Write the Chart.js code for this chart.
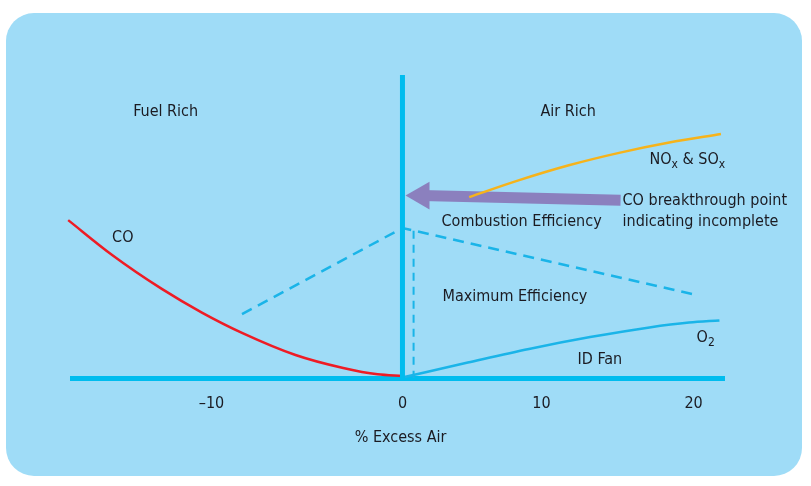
<!DOCTYPE html>
<html>
<head>
<meta charset="utf-8">
<script src="https://cdn.jsdelivr.net/npm/chart.js@4/dist/chart.umd.min.js"></script>
<style>
  html, body { margin: 0; padding: 0; background: #fff; }
</style>
</head>
<body>
<canvas id="chart" width="811" height="486"></canvas>
<script>
// eje x: % exceso de aire
const tickValues = [-10, 0, 10, 20];
const tickLabels = ['\u201310', '0', '10', '20'];
// donde cae cada marca en el dibujo (el esquema no es lineal)
const tickSpots = [-13.74, 0, 10, 20.94];

const coX = [-17.5, -15.2, -12.6, -10.5, -8.4, -5.6, -3.1, -1.3, 0];
const coY = [52.1, 40.6, 29.4, 21.6, 14.9, 7.6, 3.3, 1.2, 0.7];

const o2X = [0.14, 4.7, 9.1, 13.2, 17.1, 19.7, 21.7];
const o2Y = [0.3, 5.1, 9.6, 13.5, 16.7, 18.3, 19.0];

const noxX = [4.8, 8.4, 11.8, 15.1, 18.4, 21.8];
const noxY = [59.7, 65.3, 70.2, 74.3, 77.7, 80.5];

const effX = [-8.4, 0, 20.2];
const effY = [21.1, 49.5, 27.4];

const maxEffX = [0.8, 0.8];
const maxEffY = [48.6, 0];

const dividerX = [0, 0];
const dividerY = [0, 100];

const arrowX = [15.2, 1.37];
const arrowY = [58.7, 60.2];

// textos del esquema
const notes = [
  { x: -14.1, y: 87.8, parts: [['Fuel Rich']] },
  { x: 9.93, y: 87.8, parts: [['Air Rich']] },
  { x: -15.2, y: 46.2, parts: [['CO']] },
  { x: 17.1, y: 71.9, parts: [['NO'], ['x', 1], [' & SO'], ['x', 1]] },
  { x: 15.33, y: 58.5, parts: [['CO breakthrough point']] },
  { x: 15.33, y: 51.6, parts: [['indicating incomplete']] },
  { x: 2.81, y: 51.6, parts: [['Combustion Efficiency']] },
  { x: 2.88, y: 26.8, parts: [['Maximum Efficiency']] },
  { x: 12.37, y: 5.9, parts: [['ID Fan']] },
  { x: 20.2, y: 13.2, parts: [['O'], ['2', 1]] },
  { x: -0.1, y: -19.8, parts: [['% Excess Air']], center: true }
];

const FONT = "'Liberation Sans Narrow', 'DejaVu Sans Condensed', sans-serif";
const CYAN = '#00bcee';
const LIGHT = '#1ab4e8';

function warp(v) {
  let i = 0;
  if (v >= tickValues[tickValues.length - 1]) i = tickValues.length - 2;
  else while (i < tickValues.length - 2 && v > tickValues[i + 1]) i++;
  return tickSpots[i] + (v - tickValues[i]) * (tickSpots[i + 1] - tickSpots[i]) / (tickValues[i + 1] - tickValues[i]);
}
function unwarp(s) {
  let i = 0;
  if (s >= tickSpots[tickSpots.length - 1]) i = tickSpots.length - 2;
  else while (i < tickSpots.length - 2 && s > tickSpots[i + 1]) i++;
  return tickValues[i] + (s - tickSpots[i]) * (tickValues[i + 1] - tickValues[i]) / (tickSpots[i + 1] - tickSpots[i]);
}

// escala lineal por tramos
class WarpScale extends Chart.LinearScale {
  getPixelForValue(value) {
    if (value === null || value === undefined) return NaN;
    const a = warp(this.min), b = warp(this.max);
    return this.getPixelForDecimal((warp(value) - a) / (b - a));
  }
  getValueForPixel(pixel) {
    const a = warp(this.min), b = warp(this.max);
    return unwarp(a + this.getDecimalForPixel(pixel) * (b - a));
  }
}
WarpScale.id = 'warp';
WarpScale.defaults = {};
Chart.register(WarpScale);

function pts(xs, ys) {
  return xs.map((x, i) => ({ x: x, y: ys[i] }));
}

const panel = {
  id: 'panel',
  beforeDraw(chart) {
    const ctx = chart.ctx;
    ctx.save();
    ctx.fillStyle = '#ffffff';
    ctx.fillRect(0, 0, chart.width, chart.height);
    ctx.fillStyle = '#9fdcf7';
    ctx.beginPath();
    ctx.roundRect(6, 13, 796, 463, 28);
    ctx.fill();
    ctx.restore();
  }
};

const labels = {
  id: 'labels',
  afterDatasetsDraw(chart) {
    const ctx = chart.ctx;
    const xs = chart.scales.x, ys = chart.scales.y;
    ctx.save();
    ctx.fillStyle = '#1b1b22';
    ctx.textBaseline = 'middle';
    notes.forEach(n => {
      let px = xs.getPixelForValue(n.x);
      const py = ys.getPixelForValue(n.y);
      const widths = n.parts.map(p => {
        ctx.font = (p[1] ? '12px ' : '16px ') + FONT;
        return ctx.measureText(p[0]).width;
      });
      if (n.center) px -= widths.reduce((a, b) => a + b, 0) / 2;
      n.parts.forEach((p, i) => {
        ctx.font = (p[1] ? '12px ' : '16px ') + FONT;
        ctx.fillText(p[0], px, p[1] ? py + 5 : py);
        px += widths[i];
      });
    });
    ctx.restore();
  }
};

new Chart(document.getElementById('chart'), {
  type: 'line',
  data: {
    datasets: [
      { data: pts(noxX, noxY), borderColor: '#f6b31b', borderWidth: 2.5, cubicInterpolationMode: 'monotone' },
      {
        data: pts(arrowX, arrowY), borderColor: '#8b80be', borderWidth: 11,
        borderCapStyle: 'butt', pointRadius: [0, 16], pointStyle: 'triangle',
        pointRotation: -90, pointBackgroundColor: '#8b80be', pointBorderWidth: 0
      },
      { data: pts(dividerX, dividerY), borderColor: CYAN, borderWidth: 5, borderCapStyle: 'butt' },
      { data: pts(o2X, o2Y), borderColor: LIGHT, borderWidth: 2.5, cubicInterpolationMode: 'monotone' },
      { data: pts(coX, coY), borderColor: '#ee1c25', borderWidth: 2.5, cubicInterpolationMode: 'monotone', clip: false },
      { data: pts(effX, effY), borderColor: LIGHT, borderWidth: 2.5, borderDash: [11, 7] },
      { data: pts(maxEffX, maxEffY), borderColor: LIGHT, borderWidth: 2, borderDash: [8, 6] }
    ]
  },
  options: {
    responsive: false,
    devicePixelRatio: 1,
    animation: false,
    layout: { padding: { left: 72, right: 87, top: 75, bottom: 18 } },
    elements: { point: { radius: 0 }, line: { fill: false } },
    plugins: { legend: { display: false }, tooltip: { enabled: false } },
    scales: {
      x: {
        type: 'warp',
        min: -17.3,
        max: 22,
        afterBuildTicks: s => { s.ticks = tickValues.map(v => ({ value: v })); },
        afterFit: s => { s.height = 90; },
        grid: { display: false, drawTicks: false },
        border: { color: CYAN, width: 5 },
        ticks: {
          callback: (v, i) => tickLabels[i],
          autoSkip: false,
          maxRotation: 0,
          padding: 16,
          color: '#1b1b22',
          font: { family: FONT, size: 16 }
        }
      },
      y: { type: 'linear', min: 0, max: 100, display: false }
    }
  },
  plugins: [panel, labels]
});
</script>
</body>
</html>
